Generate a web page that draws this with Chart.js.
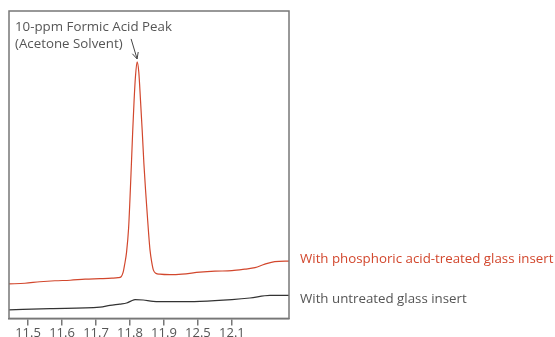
<!DOCTYPE html>
<html>
<head>
<meta charset="utf-8">
<script src="https://cdn.jsdelivr.net/npm/chart.js@4/dist/chart.umd.min.js"></script>
<style>
  html, body { margin: 0; padding: 0; background: #fff; overflow: hidden; }
  #wrap { position: relative; width: 555px; height: 345px; }
</style>
</head>
<body>
<div id="wrap"><canvas id="chromChart"></canvas></div>
<script>
// Chromatogram data (retention time, min / detector signal, arbitrary units)
const tickValues = [11.5, 11.6, 11.7, 11.8, 11.9, 12.0, 12.1];
const tickLabels = ['11.5', '11.6', '11.7', '11.8', '11.9', '12.5', '12.1'];

const treatedTime = [11.444, 11.491, 11.535, 11.579, 11.624, 11.668, 11.712, 11.747, 11.765, 11.774,
  11.780, 11.784, 11.790, 11.796, 11.800, 11.804, 11.808, 11.812, 11.816, 11.821,
  11.826, 11.831, 11.836, 11.841, 11.846, 11.851, 11.855, 11.859, 11.864, 11.869, 11.876,
  11.888, 11.918, 11.953, 12.006, 12.050, 12.100, 12.138, 12.168, 12.197, 12.226, 12.268];
const treatedSignal = [34.3, 35, 36.5, 37.5, 38, 39, 39.5, 40, 40.5, 41.5,
  46, 53, 66, 90, 119, 152, 186, 216, 240, 255.3,
  245, 217, 187, 154, 127, 103, 84, 68, 56, 48, 45,
  44, 43.5, 44, 46, 47, 47.5, 49, 50.5, 54, 56.5, 57];

const untreatedTime = [11.444, 11.565, 11.712, 11.741, 11.770, 11.790, 11.803, 11.815, 11.839, 11.868, 11.918,
  12.006, 12.100, 12.153, 12.212, 12.268];
const untreatedSignal = [8.5, 9.8, 11.3, 13.0, 14.3, 15.3, 17.2, 18.7, 18.3, 17, 16.7,
  17, 18.7, 20.3, 23, 23];

const peakTime = 11.821;
const peakSignal = 255.3;

const redColor = '#d2472d';
const greyText = '#555555';
const fontFamily = '"Open Sans", "Noto Sans", sans-serif';

const toPoints = (xs, ys) => xs.map((x, i) => ({ x: x, y: ys[i] }));

// Frame, annotation and line labels
const decorPlugin = {
  id: 'decor',
  afterDraw(chart) {
    const { ctx, chartArea, scales } = chart;
    const xs = scales.x;
    const ys = scales.y;
    ctx.save();

    // box around plot
    ctx.strokeStyle = '#777777';
    ctx.lineWidth = 1.5;
    ctx.strokeRect(chartArea.left, chartArea.top, chartArea.right - chartArea.left, chartArea.bottom - chartArea.top);

    // peak annotation
    ctx.fillStyle = greyText;
    ctx.font = '13.3px ' + fontFamily;
    ctx.textBaseline = 'middle';
    ctx.textAlign = 'left';
    ctx.fillText('10-ppm Formic Acid Peak', 15, 27);
    ctx.fillText('(Acetone Solvent)', 15, 44);

    const px = xs.getPixelForValue(peakTime);
    const py = ys.getPixelForValue(peakSignal);
    const sx = px - 6, sy = py - 23;
    const ex = px, ey = py - 3;
    ctx.strokeStyle = '#444444';
    ctx.lineWidth = 1;
    ctx.beginPath();
    ctx.moveTo(sx, sy);
    ctx.lineTo(ex, ey);
    const ang = Math.atan2(ey - sy, ex - sx);
    ctx.moveTo(ex - 7 * Math.cos(ang - 0.45), ey - 7 * Math.sin(ang - 0.45));
    ctx.lineTo(ex, ey);
    ctx.lineTo(ex - 7 * Math.cos(ang + 0.45), ey - 7 * Math.sin(ang + 0.45));
    ctx.stroke();

    // line labels to the right
    const lx = chartArea.right + 11;
    ctx.fillStyle = redColor;
    ctx.fillText('With phosphoric acid-treated glass insert', lx, ys.getPixelForValue(treatedSignal[treatedSignal.length - 1]) - 2);
    ctx.fillStyle = greyText;
    ctx.fillText('With untreated glass insert', lx, ys.getPixelForValue(untreatedSignal[untreatedSignal.length - 1]) + 4);

    ctx.restore();
  }
};

const ctx = document.getElementById('chromChart').getContext('2d');
new Chart(ctx, {
  type: 'line',
  data: {
    datasets: [{
      label: 'With phosphoric acid-treated glass insert',
      data: toPoints(treatedTime, treatedSignal),
      borderColor: redColor,
      borderWidth: 1.2,
      pointRadius: 0,
      cubicInterpolationMode: 'monotone',
      fill: false
    }, {
      label: 'With untreated glass insert',
      data: toPoints(untreatedTime, untreatedSignal),
      borderColor: '#333333',
      borderWidth: 1.2,
      pointRadius: 0,
      cubicInterpolationMode: 'monotone',
      fill: false
    }]
  },
  options: {
    responsive: true,
    maintainAspectRatio: false,
    animation: false,
    layout: { padding: { left: 9, right: 266, top: 11, bottom: 4 } },
    plugins: {
      legend: { display: false },
      tooltip: { enabled: false }
    },
    scales: {
      x: {
        type: 'linear',
        min: 11.444,
        max: 12.268,
        afterBuildTicks: (scale) => {
          scale.ticks = tickValues.map(v => ({ value: v }));
        },
        ticks: {
          autoSkip: false,
          maxRotation: 0,
          padding: 0,
          color: greyText,
          font: { family: fontFamily, size: 13 },
          callback: (value) => {
            const i = tickValues.findIndex(t => Math.abs(t - value) < 1e-6);
            return i >= 0 ? tickLabels[i] : '';
          }
        },
        grid: {
          drawOnChartArea: false,
          drawTicks: true,
          tickLength: 7,
          color: '#777777',
          lineWidth: 1.5
        },
        border: { display: true, color: '#777777', width: 1.5 }
      },
      y: {
        display: false,
        min: 0,
        max: 306
      }
    }
  },
  plugins: [decorPlugin]
});
</script>
</body>
</html>
